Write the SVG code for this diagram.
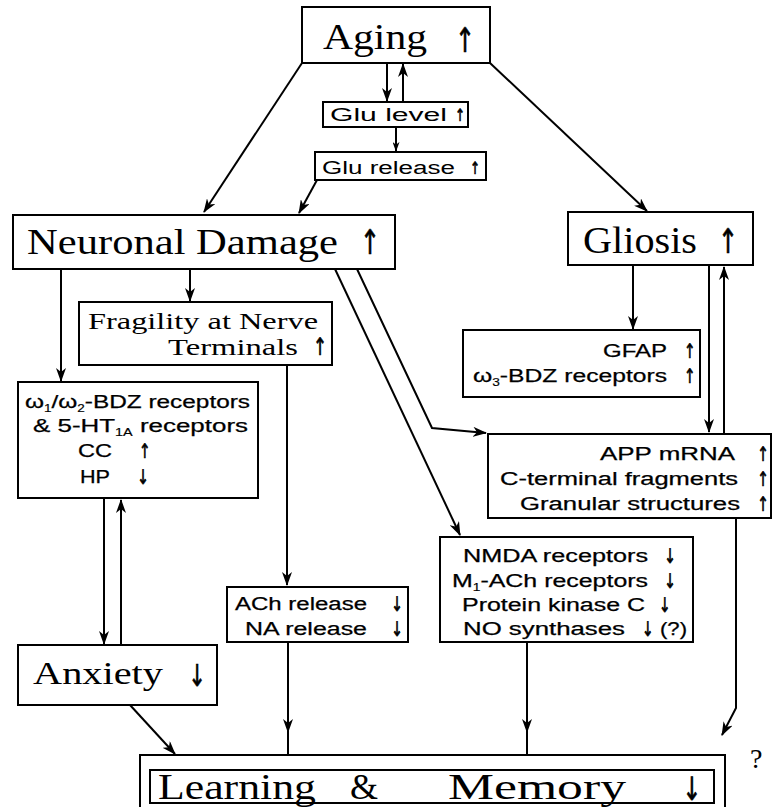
<svg xmlns="http://www.w3.org/2000/svg" width="774" height="807" viewBox="0 0 774 807">
<style>
.box{fill:#fff;stroke:#000;stroke-width:2}
.ln{fill:none;stroke:#000;stroke-width:2}
.sf{font-family:"Liberation Serif","Times New Roman",serif;fill:#000}
.ss{font-family:"Liberation Sans",Arial,sans-serif;fill:#000;font-size:18px;stroke:#000;stroke-width:0.25}
.ar{font-family:"DejaVu Sans",sans-serif;fill:#000;stroke:#000;stroke-width:0.7;text-anchor:middle}
.sub{font-size:10px;stroke-width:0.15}
</style>
<defs>
<marker id="ah" viewBox="0 0 14 10" refX="13" refY="5" markerWidth="14" markerHeight="10" markerUnits="userSpaceOnUse" orient="auto"><path d="M0,0 L14,5 L0,10 L4,5 z" fill="#000"/></marker>
<marker id="ahs" viewBox="0 0 14 10" refX="13" refY="5" markerWidth="10" markerHeight="7" markerUnits="userSpaceOnUse" orient="auto"><path d="M0,0 L14,5 L0,10 L4,5 z" fill="#000"/></marker>
</defs>

<g id="connectors">
<line class="ln" x1="302" y1="63" x2="204" y2="212" marker-end="url(#ah)"/>
<line class="ln" x1="490" y1="63" x2="647" y2="211" marker-end="url(#ah)"/>
<line class="ln" x1="387" y1="63" x2="387" y2="101" marker-end="url(#ah)"/>
<line class="ln" x1="403" y1="102" x2="403" y2="64" marker-end="url(#ah)"/>
<line class="ln" x1="396" y1="127" x2="396" y2="151" marker-end="url(#ahs)"/>
<line class="ln" x1="317" y1="180" x2="299" y2="213" marker-end="url(#ah)"/>
<line class="ln" x1="61" y1="269" x2="61" y2="381" marker-end="url(#ah)"/>
<line class="ln" x1="190" y1="269" x2="190" y2="301" marker-end="url(#ah)"/>
<line class="ln" x1="287" y1="365" x2="287" y2="585" marker-end="url(#ah)"/>
<line class="ln" x1="335" y1="269" x2="460" y2="535" marker-end="url(#ah)"/>
<polyline class="ln" points="357,269 432,428 486,433" marker-end="url(#ah)"/>
<line class="ln" x1="633" y1="265" x2="633" y2="329" marker-end="url(#ah)"/>
<line class="ln" x1="709" y1="265" x2="709" y2="432" marker-end="url(#ah)"/>
<line class="ln" x1="724" y1="434" x2="724" y2="267" marker-end="url(#ah)"/>
<line class="ln" x1="104" y1="498" x2="104" y2="644" marker-end="url(#ah)"/>
<line class="ln" x1="121" y1="645" x2="121" y2="500" marker-end="url(#ah)"/>
<line class="ln" x1="130" y1="705" x2="175" y2="754" marker-end="url(#ah)"/>
<polyline class="ln" points="288,642 288,732 288,756" marker-mid="url(#ah)"/>
<polyline class="ln" points="527,642 527,732 527,756" marker-mid="url(#ah)"/>
<polyline class="ln" points="736,518 736,708 722,735" marker-end="url(#ah)"/>
</g>

<g id="aging">
<rect class="box" x="302" y="7" width="188" height="56"/>
<text class="sf" x="323" y="49" font-size="36" textLength="104" lengthAdjust="spacingAndGlyphs">Aging</text>
<text class="ar" x="465" y="52" font-size="34" transform="translate(465 0) scale(0.7 1) translate(-465 0)">↑</text>
</g>

<g id="glu-level">
<rect class="box" x="323" y="102" width="145" height="25"/>
<text class="ss" x="330" y="121" font-size="16" textLength="117" lengthAdjust="spacingAndGlyphs" style="stroke-width:0">Glu level</text>
<text class="ar" x="460" y="121" font-size="17" transform="translate(460 0) scale(0.7 1) translate(-460 0)">↑</text>
</g>

<g id="glu-release">
<rect class="box" x="315" y="152" width="171" height="28"/>
<text class="ss" x="322" y="174" font-size="16" textLength="133" lengthAdjust="spacingAndGlyphs" style="stroke-width:0">Glu release</text>
<text class="ar" x="475" y="174" font-size="17" transform="translate(475 0) scale(0.7 1) translate(-475 0)">↑</text>
</g>

<g id="neuronal-damage">
<rect class="box" x="13" y="215" width="382" height="54"/>
<text class="sf" x="27" y="254" font-size="36" textLength="311" lengthAdjust="spacingAndGlyphs">Neuronal Damage</text>
<text class="ar" x="370" y="254" font-size="34" transform="translate(370 0) scale(0.7 1) translate(-370 0)">↑</text>
</g>

<g id="gliosis">
<rect class="box" x="568" y="212" width="185" height="53"/>
<text class="sf" x="583" y="253" font-size="38" textLength="114" lengthAdjust="spacingAndGlyphs">Gliosis</text>
<text class="ar" x="728" y="253" font-size="34" transform="translate(728 0) scale(0.7 1) translate(-728 0)">↑</text>
</g>

<g id="fragility">
<rect class="box" x="79" y="302" width="253" height="63"/>
<text class="sf" x="88" y="329" font-size="24" textLength="230" lengthAdjust="spacingAndGlyphs">Fragility at Nerve</text>
<text class="sf" x="168" y="355" font-size="24" textLength="130" lengthAdjust="spacingAndGlyphs">Terminals</text>
<text class="ar" x="320" y="355" font-size="24" transform="translate(320 0) scale(0.7 1) translate(-320 0)">↑</text>
</g>

<g id="gfap">
<rect class="box" x="463" y="330" width="237" height="67"/>
<text class="ss" x="603" y="357" textLength="64" lengthAdjust="spacingAndGlyphs">GFAP</text>
<text class="ar" x="690" y="358" font-size="20" transform="translate(690 0) scale(0.7 1) translate(-690 0)">↑</text>
<text class="ss" x="473" y="382" textLength="194" lengthAdjust="spacingAndGlyphs">ω<tspan class="sub" dy="4">3</tspan><tspan dy="-4">-BDZ receptors</tspan></text>
<text class="ar" x="690" y="383" font-size="20" transform="translate(690 0) scale(0.7 1) translate(-690 0)">↑</text>
</g>

<g id="bdz">
<rect class="box" x="18" y="382" width="240" height="116"/>
<text class="ss" x="25" y="408" textLength="225" lengthAdjust="spacingAndGlyphs">ω<tspan class="sub" dy="4">1</tspan><tspan dy="-4">/ω</tspan><tspan class="sub" dy="4">2</tspan><tspan dy="-4">-BDZ receptors</tspan></text>
<text class="ss" x="33" y="432" textLength="215" lengthAdjust="spacingAndGlyphs">&amp; 5-HT<tspan class="sub" dy="4">1A</tspan><tspan dy="-4"> receptors</tspan></text>
<text class="ss" x="78" y="457" textLength="34" lengthAdjust="spacingAndGlyphs">CC</text>
<text class="ar" x="145" y="458" font-size="20" transform="translate(145 0) scale(0.7 1) translate(-145 0)">↑</text>
<text class="ss" x="80" y="483" textLength="30" lengthAdjust="spacingAndGlyphs">HP</text>
<text class="ar" x="143" y="484" font-size="20" transform="translate(143 0) scale(0.7 1) translate(-143 0)">↓</text>
</g>

<g id="app">
<rect class="box" x="488" y="434" width="283" height="84"/>
<text class="ss" x="600" y="460" font-size="19" textLength="135" lengthAdjust="spacingAndGlyphs">APP  mRNA</text>
<text class="ar" x="763" y="461" font-size="20" transform="translate(763 0) scale(0.7 1) translate(-763 0)">↑</text>
<text class="ss" x="500" y="485" font-size="19" textLength="238" lengthAdjust="spacingAndGlyphs">C-terminal fragments</text>
<text class="ar" x="763" y="486" font-size="20" transform="translate(763 0) scale(0.7 1) translate(-763 0)">↑</text>
<text class="ss" x="520" y="510" font-size="19" textLength="220" lengthAdjust="spacingAndGlyphs">Granular structures</text>
<text class="ar" x="763" y="511" font-size="20" transform="translate(763 0) scale(0.7 1) translate(-763 0)">↑</text>
</g>

<g id="nmda">
<rect class="box" x="440" y="537" width="253" height="105"/>
<text class="ss" x="463" y="562" textLength="185" lengthAdjust="spacingAndGlyphs">NMDA receptors</text>
<text class="ar" x="670" y="563" font-size="20" transform="translate(670 0) scale(0.7 1) translate(-670 0)">↓</text>
<text class="ss" x="452" y="587" textLength="196" lengthAdjust="spacingAndGlyphs">M<tspan class="sub" dy="4">1</tspan><tspan dy="-4">-ACh receptors</tspan></text>
<text class="ar" x="670" y="588" font-size="20" transform="translate(670 0) scale(0.7 1) translate(-670 0)">↓</text>
<text class="ss" x="462" y="611" textLength="183" lengthAdjust="spacingAndGlyphs">Protein kinase C</text>
<text class="ar" x="665" y="612" font-size="20" transform="translate(665 0) scale(0.7 1) translate(-665 0)">↓</text>
<text class="ss" x="463" y="635" textLength="162" lengthAdjust="spacingAndGlyphs">NO  synthases</text>
<text class="ar" x="648" y="636" font-size="20" transform="translate(648 0) scale(0.7 1) translate(-648 0)">↓</text>
<text class="ss" x="660" y="635" textLength="27" lengthAdjust="spacingAndGlyphs">(?)</text>
</g>

<g id="ach">
<rect class="box" x="227" y="587" width="181" height="55"/>
<text class="ss" x="235" y="610" textLength="132" lengthAdjust="spacingAndGlyphs">ACh release</text>
<text class="ar" x="397" y="611" font-size="20" transform="translate(397 0) scale(0.7 1) translate(-397 0)">↓</text>
<text class="ss" x="245" y="635" textLength="122" lengthAdjust="spacingAndGlyphs">NA  release</text>
<text class="ar" x="397" y="636" font-size="20" transform="translate(397 0) scale(0.7 1) translate(-397 0)">↓</text>
</g>

<g id="anxiety">
<rect class="box" x="18" y="645" width="199" height="60"/>
<text class="sf" x="33" y="684" font-size="32" textLength="130" lengthAdjust="spacingAndGlyphs">Anxiety</text>
<text class="ar" x="197" y="686" font-size="30" transform="translate(197 0) scale(0.7 1) translate(-197 0)">↓</text>
</g>

<g id="learning-memory">
<rect class="box" x="140" y="755" width="585" height="60"/>
<rect class="box" x="150" y="770" width="564" height="33"/>
<text class="sf" x="158" y="799" font-size="36" textLength="158" lengthAdjust="spacingAndGlyphs">Learning</text>
<text class="sf" x="350" y="799" font-size="36">&amp;</text>
<text class="sf" x="448" y="799" font-size="36" textLength="178" lengthAdjust="spacingAndGlyphs">Memory</text>
<text class="ar" x="692" y="800" font-size="32" transform="translate(692 0) scale(0.7 1) translate(-692 0)">↓</text>
</g>

<text class="sf" x="750" y="768" font-size="28">?</text>
</svg>
